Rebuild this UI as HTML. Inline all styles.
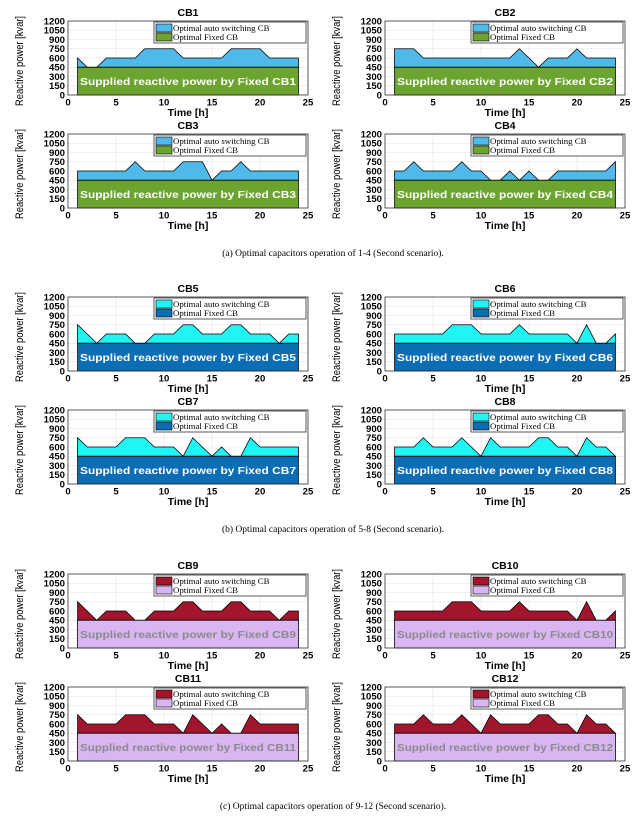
<!DOCTYPE html>
<html><head><meta charset="utf-8"><style>
html,body{margin:0;padding:0;background:#fff;}
svg{display:block;}
.t{font-family:"Liberation Sans",sans-serif;font-weight:bold;}
.s{font-family:"Liberation Serif",serif;}
</style></head><body>
<svg id="fig" width="644" height="821" viewBox="0 0 644 821" xmlns="http://www.w3.org/2000/svg"></svg>
<script>
const hours = [1,2,3,4,5,6,7,8,9,10,11,12,13,14,15,16,17,18,19,20,21,22,23,24];
const fixedLevel = 450;
const yTicks = [0,150,300,450,600,750,900,1050,1200];
const xTicks = [0,5,10,15,20,25];
const cb1 = [600,450,450,600,600,600,600,750,750,750,750,600,600,600,600,600,750,750,750,750,600,600,600,600];
const cb2 = [750,750,750,600,600,600,600,600,600,600,600,600,600,750,600,450,600,600,600,750,600,600,600,600];
const cb3 = [600,600,600,600,600,600,750,600,600,600,600,750,750,750,450,600,600,750,600,600,600,600,600,600];
const cb4 = [600,600,750,600,600,600,600,750,600,600,450,450,600,450,600,450,450,600,600,600,600,600,600,750];
const cb5 = [750,600,450,600,600,600,450,450,600,600,600,750,750,600,600,600,750,750,600,600,600,450,600,600];
const cb6 = [600,600,600,600,600,600,750,750,750,600,600,600,600,750,600,600,600,600,600,450,750,450,450,600];
const cb7 = [750,600,600,600,600,750,750,750,600,600,600,450,750,600,450,600,450,450,750,600,600,600,600,600];
const cb8 = [600,600,600,750,600,600,600,750,600,450,750,600,600,600,600,750,750,600,600,450,750,600,600,450];
const cb9 = cb5.slice(), cb10 = cb6.slice(), cb11 = cb7.slice(), cb12 = cb8.slice();
const seriesList = [cb1,cb2,cb3,cb4,cb5,cb6,cb7,cb8,cb9,cb10,cb11,cb12];

const NS="http://www.w3.org/2000/svg";
const svg=document.getElementById('fig');
function mk(tag,attrs,parent,text){const e=document.createElementNS(NS,tag);for(const k in attrs)e.setAttribute(k,attrs[k]);if(text!==undefined)e.textContent=text;(parent||svg).appendChild(e);return e;}

const colX=[68,385], rowY=[21,134,297,410,574,687];
const W=240, H=74;
const palettes=[
 {auto:'#4fb9ea',fixed:'#6ba42f',txt:'#ffffff'},
 {auto:'#1ff5f5',fixed:'#0b6db3',txt:'#ffffff'},
 {auto:'#a3152c',fixed:'#d9b5f2',txt:'#8a8a8a'}];

seriesList.forEach((vals,i)=>{
  const ox=colX[i%2], oy=rowY[Math.floor(i/2)], pal=palettes[Math.floor(i/4)];
  const xs=v=>ox+v/25*W, ys=v=>oy+H-v/1200*H;
  const g=mk('g',{});
  
  
  mk('rect',{x:ox,y:oy,width:W,height:H,fill:'#fff'},g);
  xTicks.forEach(t=>mk('line',{x1:xs(t),x2:xs(t),y1:oy,y2:oy+H,stroke:'#e2e2e2','stroke-width':0.6},g));
  yTicks.forEach(t=>mk('line',{x1:ox,x2:ox+W,y1:ys(t),y2:ys(t),stroke:'#e2e2e2','stroke-width':0.6},g));
  let d='M'+xs(hours[0])+','+ys(fixedLevel);
  hours.forEach((h,k)=>{d+=' L'+xs(h)+','+ys(vals[k]);});
  d+=' L'+xs(hours[hours.length-1])+','+ys(fixedLevel)+' Z';
  const a=mk('path',{d:d,fill:pal.auto,stroke:'#000','stroke-width':0.8},g);
  
  
  const f=mk('rect',{x:xs(hours[0]),y:ys(fixedLevel),width:xs(hours[hours.length-1])-xs(hours[0]),height:ys(0)-ys(fixedLevel),fill:pal.fixed,stroke:'#000','stroke-width':0.8},g);
  
  
  const ft=mk('text',{x:xs(12.5),y:ys(225)+4,'text-anchor':'middle','font-size':10.5,fill:pal.txt,class:'t',textLength:216,lengthAdjust:'spacingAndGlyphs'},g,'Supplied reactive power by Fixed CB'+(i+1));
  
  
  mk('rect',{x:ox,y:oy,width:W,height:H,fill:'none',stroke:'#333','stroke-width':0.8},g);
  yTicks.forEach(t=>{const tl=mk('text',{x:ox-3,y:ys(t)+3.4,'text-anchor':'end','font-size':9.6,class:'t'},g,String(t));
    });
  xTicks.forEach(t=>{const tl=mk('text',{x:xs(t),y:oy+H+10.5,'text-anchor':'middle','font-size':9.6,class:'t'},g,String(t));
    });
  const tt=mk('text',{x:ox+W/2,y:oy-5,'text-anchor':'middle','font-size':10.5,class:'t'},g,'CB'+(i+1));
  
  const xl=mk('text',{x:ox+W/2,y:oy+H+21,'text-anchor':'middle','font-size':10.5,class:'t'},g,'Time [h]');
  
  const yl=mk('text',{x:0,y:0,'text-anchor':'middle','font-size':11,textLength:90,lengthAdjust:'spacingAndGlyphs',transform:'translate('+(ox-45)+','+(oy+H/2+3)+') rotate(-90)',class:'t',style:'font-weight:normal'},g,'Reactive power [kvar]');
  
  const lx=ox+86, ly=oy+1;
  const lg=mk('g',{},g);
  
  mk('rect',{x:lx,y:ly,width:152,height:21,fill:'#fff',stroke:'#333','stroke-width':0.8},lg);
  mk('rect',{x:lx+2,y:ly+2,width:16,height:8,fill:pal.auto,stroke:'#000','stroke-width':0.6},lg);
  mk('rect',{x:lx+2,y:ly+11,width:16,height:8,fill:pal.fixed,stroke:'#000','stroke-width':0.6},lg);
  const l1=mk('text',{x:lx+19,y:ly+9,'font-size':8.8,class:'s'},lg,'Optimal auto switching CB');
  
  const l2=mk('text',{x:lx+19,y:ly+18,'font-size':8.8,class:'s'},lg,'Optimal Fixed CB');
  
});

const captions=[[256,'(a)  Optimal capacitors operation of 1-4 (Second scenario).'],[532,'(b)  Optimal capacitors operation of 5-8 (Second scenario).'],[809,'(c)  Optimal capacitors operation of 9-12 (Second scenario).']];
captions.forEach(c=>{const e=mk('text',{x:333,y:c[0],'text-anchor':'middle','font-size':9.5,class:'s'},svg,c[1]);
  });
</script>
</body></html>
